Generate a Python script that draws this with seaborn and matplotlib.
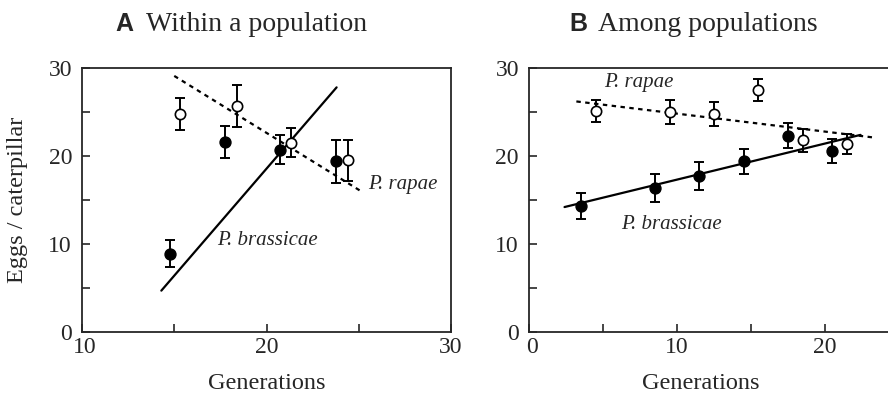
import matplotlib
matplotlib.use("Agg")
import matplotlib.pyplot as plt
import matplotlib.transforms as mtransforms
import seaborn as sns

sns.set_style("ticks")
plt.rcParams["font.family"] = ["Liberation Serif", "DejaVu Serif"]

# ---- data ----
# Panel A: within a population
a_brass_gen = [14.75, 17.73, 20.73, 23.75]
a_brass_eggs = [8.9, 21.6, 20.7, 19.4]
a_brass_err = [1.5, 1.85, 1.65, 2.45]
a_rapae_gen = [15.31, 18.38, 21.33, 24.4]
a_rapae_eggs = [24.8, 25.7, 21.5, 19.5]
a_rapae_err = [1.8, 2.35, 1.65, 2.3]
a_brass_fit_x = [14.3, 23.8]
a_brass_fit_y = [4.7, 27.8]
a_rapae_fit_x = [15.0, 25.2]
a_rapae_fit_y = [29.1, 15.9]

# Panel B: among populations
b_brass_gen = [3.5, 8.5, 11.5, 14.5, 17.5, 20.5]
b_brass_eggs = [14.3, 16.4, 17.7, 19.4, 22.3, 20.6]
b_brass_err = [1.5, 1.6, 1.6, 1.4, 1.4, 1.35]
b_rapae_gen = [4.5, 9.5, 12.5, 15.5, 18.5, 21.5]
b_rapae_eggs = [25.1, 25.0, 24.8, 27.5, 21.8, 21.4]
b_rapae_err = [1.25, 1.4, 1.35, 1.2, 1.3, 1.15]
b_brass_fit_x = [2.4, 22.4]
b_brass_fit_y = [14.2, 22.4]
b_rapae_fit_x = [3.2, 23.3]
b_rapae_fit_y = [26.2, 22.1]

x_ticks_a = [10, 20, 30]
x_ticks_b = [0, 10, 20]
y_ticks = [0, 10, 20, 30]

W, H = 888, 396
fig = plt.figure(figsize=(W / 100, H / 100), dpi=100)
axA = fig.add_axes([82 / W, 1 - 332 / H, (451 - 82) / W, (332 - 68) / H])
axB = fig.add_axes([529 / W, 1 - 332 / H, (888 - 529) / W, (332 - 68) / H])


def draw(ax, bg, be, berr, rg, re, rerr, bfx, bfy, rfx, rfy):
    sns.lineplot(x=bfx, y=bfy, ax=ax, color="black", lw=1.6, sort=False,
                 estimator=None, zorder=2)
    sns.lineplot(x=rfx, y=rfy, ax=ax, color="black", lw=1.6, sort=False,
                 estimator=None, zorder=2)
    ax.lines[-1].set_linestyle((0, (2, 2)))
    ax.errorbar(bg, be, yerr=berr, fmt="none", ecolor="black", elinewidth=1.4,
                capsize=3.5, capthick=1.4, zorder=3)
    ax.errorbar(rg, re, yerr=rerr, fmt="none", ecolor="black", elinewidth=1.4,
                capsize=3.5, capthick=1.4, zorder=3)
    sns.scatterplot(x=bg, y=be, ax=ax, marker="o", s=62, color="black",
                    edgecolor="black", linewidth=1.0, zorder=4)
    sns.scatterplot(x=rg, y=re, ax=ax, marker="o", s=55, color="white",
                    edgecolor="black", linewidth=1.2, zorder=4)


draw(axA, a_brass_gen, a_brass_eggs, a_brass_err, a_rapae_gen, a_rapae_eggs,
     a_rapae_err, a_brass_fit_x, a_brass_fit_y, a_rapae_fit_x, a_rapae_fit_y)
draw(axB, b_brass_gen, b_brass_eggs, b_brass_err, b_rapae_gen, b_rapae_eggs,
     b_rapae_err, b_brass_fit_x, b_brass_fit_y, b_rapae_fit_x, b_rapae_fit_y)

axA.set_xlim(10, 30)
axB.set_xlim(0, (888 - 529) / 14.8)
for ax in (axA, axB):
    ax.set_ylim(0, 30)
    ax.set_yticks(y_ticks)
    ax.set_yticks([5, 15, 25], minor=True)
    for s in ax.spines.values():
        s.set_linewidth(1.3)
    ax.tick_params(which="both", direction="in", length=6, width=1.2,
                   labelsize=17)
    ax.tick_params(axis="y", which="major", pad=7.2)
    ax.tick_params(axis="x", which="major", pad=3.5)
axA.set_xticks(x_ticks_a)
axA.set_xticks([15, 25], minor=True)
axB.set_xticks(x_ticks_b)
axB.set_xticks([5, 15], minor=True)
axB.spines["right"].set_visible(False)

axA.set_xlabel("Generations", fontsize=17.5)
axB.set_xlabel("Generations", fontsize=17.5)
axA.xaxis.set_label_coords(0.5, -0.155)
axB.xaxis.set_label_coords((700.7 - 529) / (888 - 529), -0.155)
axA.set_ylabel("Eggs / caterpillar", fontsize=17.5)
axA.yaxis.set_label_coords(-0.146, 0.5)

lab_kw = dict(fontsize=15, style="italic", va="center")
axA.text(25.5, 16.8, "P. rapae", ha="left", **lab_kw)
axA.text(17.3, 10.45, "P. brassicae", ha="left", **lab_kw)
axB.text(5.1, 28.3, "P. rapae", ha="left", **lab_kw)
axB.text(6.2, 12.2, "P. brassicae", ha="left", **lab_kw)

# titles
ty = 1 - 31 / H
fig.text(115 / W, ty, "A", fontsize=18, fontweight="bold",
         family=["Liberation Sans", "DejaVu Sans"], va="baseline", ha="left")
fig.text(146 / W, ty, "Within a population", fontsize=20, va="baseline", ha="left")
fig.text(569 / W, ty, "B", fontsize=18, fontweight="bold",
         family=["Liberation Sans", "DejaVu Sans"], va="baseline", ha="left")
fig.text(598 / W, ty, "Among populations", fontsize=20, va="baseline", ha="left")

# nudge the first x tick label of each panel slightly right, as in the reference
fig.canvas.draw()
shift = mtransforms.ScaledTranslation(3 / 100, 0, fig.dpi_scale_trans)
for ax in (axA, axB):
    lab = ax.xaxis.get_major_ticks()[0].label1
    lab.set_transform(lab.get_transform() + shift)

fig.savefig("out.png", dpi=100)
